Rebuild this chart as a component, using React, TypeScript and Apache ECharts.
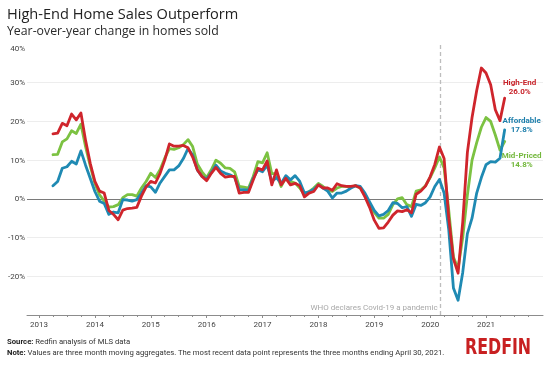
import React, { useEffect, useRef } from "react";
import * as echarts from "echarts";

// first data point: March 2013, last: April 2021 (monthly, three-month moving aggregates)
const startYear = 2013;
const startMonth = 3;

const highEnd = [
  // 2013 (Mar-Dec)
  16.8, 17.0, 19.5, 18.9, 21.9, 20.4, 22.2, 15.1, 9.2, 4.5,
  // 2014
  2.0, 1.5, -3.0, -4.0, -5.4, -2.9, -2.5, -2.4, -2.2, 0.7, 3.1, 4.5,
  // 2015
  4.1, 6.6, 10.0, 14.2, 13.6, 13.6, 13.8, 13.2, 10.8, 7.5, 5.8, 4.7,
  // 2016
  6.6, 8.1, 6.6, 5.6, 5.8, 5.8, 1.5, 1.7, 1.7, 4.9, 7.9, 7.5,
  // 2017
  9.8, 3.6, 7.5, 3.6, 5.3, 3.6, 4.0, 3.4, 0.5, 1.5, 1.9, 3.6,
  // 2018
  2.8, 2.8, 2.2, 3.9, 3.4, 3.2, 3.2, 3.4, 2.8, 0.5, -2.2, -5.5,
  // 2019
  -7.6, -7.5, -6.0, -4.2, -3.1, -3.3, -2.8, -3.6, 1.2, 2.0, 3.3, 5.7,
  // 2020
  8.9, 13.4, 10.4, -5.0, -15.5, -19.2, -6.0, 12.0, 21.0, 28.0, 33.8, 32.5,
  // 2021 (Jan-Apr)
  29.5, 23.0, 20.2, 26.0,
];

const affordable = [
  3.4, 4.5, 7.9, 8.3, 9.7, 9.0, 12.4, 8.7, 5.3, 1.9,
  -0.6, -1.2, -4.0, -3.4, -3.6, -0.2, -0.3, -0.6, -0.2, 1.5, 3.4, 3.1,
  1.7, 4.1, 5.8, 7.5, 7.5, 8.5, 10.4, 13.0, 11.3, 7.5, 5.8, 5.1,
  6.8, 8.7, 7.2, 6.6, 6.2, 5.6, 2.4, 2.4, 2.2, 5.3, 7.5, 7.0,
  8.7, 4.5, 5.5, 4.0, 6.0, 4.9, 6.0, 4.5, 1.5, 1.8, 2.5, 3.6,
  2.8, 2.0, 0.2, 1.5, 1.5, 2.0, 2.8, 3.4, 3.2, 1.5, -0.8, -3.0,
  -4.4, -4.0, -3.0, -1.0, -1.2, -2.3, -2.0, -4.5, -1.4, -1.7, -1.0, 0.5,
  3.2, 5.0, 1.5, -8.0, -23.0, -26.2, -19.0, -9.0, -5.0, 1.5, 5.5, 8.8,
  9.6, 9.5, 10.5, 17.8,
];

const midPriced = [
  11.4, 11.5, 14.7, 15.5, 17.6, 16.9, 19.3, 13.5, 8.5, 4.0,
  1.0, -0.5, -2.1, -2.0, -1.5, 0.3, 1.1, 1.1, 0.7, 2.8, 4.5, 6.6,
  5.5, 7.5, 10.5, 13.0, 12.8, 13.2, 14.0, 15.3, 13.5, 9.0, 7.0, 5.5,
  7.5, 10.0, 9.2, 8.0, 7.9, 7.0, 3.2, 3.0, 2.8, 5.8, 9.6, 9.3,
  11.9, 6.5, 6.5, 3.2, 5.5, 4.5, 4.1, 2.8, 1.1, 1.9, 2.8, 4.0,
  3.2, 2.2, 1.9, 2.8, 3.2, 3.2, 3.0, 3.4, 2.8, 1.0, -1.5, -3.5,
  -5.0, -5.0, -4.0, -1.5, 0.0, 0.3, -1.5, -2.0, 2.0, 2.3, 3.4, 5.5,
  8.0, 10.8, 8.0, -3.0, -15.0, -18.0, -10.0, 1.0, 10.0, 14.5, 18.5, 21.0,
  20.0, 16.5, 12.6, 14.8,
];

const yearTicks = [2013, 2014, 2015, 2016, 2017, 2018, 2019, 2020, 2021];
const whoDate = 2020.19;
const whoText = "WHO declares Covid-19 a pandemic";

const seriesNames = ["Mid-Priced", "Affordable", "High-End"];
const seriesColors = ["#7cc242", "#1f8ab3", "#cf252c"];
const labelColors = ["#74b83d", "#1c7eab", "#c8232a"];

const FONT = "Roboto";
const TITLE_FONT = "Open Sans";

// month m of year Y is plotted at the month's end
const toX = (i: number) => startYear + (startMonth - 1 + i + 1) / 12;
const pairs = (arr: number[]) => arr.map((v, i) => [toX(i), v]);

const quarterTicks: number[] = [];
yearTicks.forEach((y) => {
  [0.25, 0.5, 0.75].forEach((q) => quarterTicks.push(y + q));
});
quarterTicks.push(2012.75);

export default function App() {
  const ref = useRef<HTMLDivElement>(null);

  useEffect(() => {
    if (!ref.current) return;
    const chart = echarts.init(ref.current, undefined, { renderer: "svg" });
    const X_MIN = 2012.785;
    const X_MAX = 2022.02;

    const datas = [midPriced, affordable, highEnd];

    const option: any = {
      animation: false,
      textStyle: { fontFamily: FONT },
      grid: { left: 27, right: 7, top: 44, bottom: 50, containLabel: false },
      xAxis: [
        {
          type: "value",
          min: X_MIN,
          max: X_MAX,
          position: "bottom",
          axisLine: { show: true, onZero: false, lineStyle: { color: "#8c8c8c", width: 1 } },
          axisTick: { show: true, length: 3, customValues: yearTicks, lineStyle: { color: "#8c8c8c" } },
          axisLabel: {
            customValues: yearTicks,
            formatter: (v: number) => String(Math.round(v)),
            fontSize: 8,
            color: "#444",
            margin: 5,
            fontFamily: FONT,
          },
          splitLine: { show: false },
        },
        {
          type: "value",
          min: X_MIN,
          max: X_MAX,
          position: "bottom",
          axisLine: { show: false, onZero: false },
          axisTick: { show: true, length: 2, customValues: quarterTicks, lineStyle: { color: "#8c8c8c" } },
          axisLabel: { show: false },
          splitLine: { show: false },
        },
      ],
      yAxis: {
        type: "value",
        min: -30,
        max: 40,
        interval: 10,
        axisLine: { show: false },
        axisTick: { show: false },
        axisLabel: {
          fontSize: 8,
          color: "#444",
          margin: 2,
          fontFamily: FONT,
          formatter: (v: number) => {
            if (v === -30) return "";
            if (v === 40) return "{top|40%}";
            return v + "%";
          },
          rich: { top: { fontSize: 8, color: "#444", padding: [8, 0, 0, 0] } },
        },
        splitLine: { show: true, showMaxLine: false, showMinLine: false, lineStyle: { color: "#ededed", width: 1 } },
      },
      series: datas.map((d, i) => ({
        name: seriesNames[i],
        type: "line",
        data: pairs(d),
        showSymbol: false,
        symbol: "none",
        lineStyle: { color: seriesColors[i], width: 2.8, join: "round", cap: "round" },
        itemStyle: { color: seriesColors[i] },
        z: 3 + i,
        markLine:
          i === 0
            ? {
                silent: true,
                symbol: "none",
                label: { show: false },
                z: 1,
                data: [
                  { yAxis: 0, lineStyle: { color: "#7a7a7a", width: 1, type: "solid" } },
                  { xAxis: whoDate, lineStyle: { color: "#bdbdbd", width: 1.3, type: [4, 3] } },
                ],
              }
            : undefined,
      })),
    };

    chart.setOption(option);

    const px = (si: number, x: number, y: number) =>
      chart.convertToPixel({ seriesIndex: si }, [x, y]) as number[];

    const labelOffsets = [
      [17, 14, 23],
      [17, -9, 0],
      [15, -16, -6.5],
    ];
    const endTexts: any[] = [];
    datas.forEach((d, i) => {
      const last = d.length - 1;
      const p = px(i, toX(last), d[last]);
      const [dx, dy1, dy2] = labelOffsets[i];
      endTexts.push({
        type: "text",
        x: p[0] + dx,
        y: p[1] + dy1,
        style: {
          text: seriesNames[i],
          fill: labelColors[i],
          font: `bold 8px ${FONT}`,
          align: "center",
          verticalAlign: "middle",
        },
      });
      endTexts.push({
        type: "text",
        x: p[0] + dx,
        y: p[1] + dy2,
        style: {
          text: d[last].toFixed(1) + "%",
          fill: labelColors[i],
          font: `bold 8px ${FONT}`,
          align: "center",
          verticalAlign: "middle",
        },
      });
    });

    const whoP = px(0, whoDate, -30);

    chart.setOption({
      graphic: [
        {
          type: "text",
          x: 7,
          y: 13,
          style: {
            text: "High-End Home Sales Outperform",
            fill: "#222",
            font: `14.6px '${TITLE_FONT}'`,
            verticalAlign: "middle",
          },
        },
        {
          type: "text",
          x: 7,
          y: 30,
          style: {
            text: "Year-over-year change in homes sold",
            fill: "#2a2a2a",
            font: `12.3px '${TITLE_FONT}'`,
            verticalAlign: "middle",
          },
        },
        {
          type: "text",
          x: whoP[0] - 3,
          y: whoP[1] - 8,
          style: {
            text: whoText,
            fill: "#a8a8a8",
            font: `8px ${FONT}`,
            align: "right",
            verticalAlign: "middle",
          },
        },
        ...endTexts,
        {
          type: "text",
          x: 7,
          y: 341,
          style: {
            text: "{b|Source:} Redfin analysis of MLS data",
            verticalAlign: "middle",
            rich: {
              b: { fontWeight: "bold", fontSize: 7.7, fill: "#222", fontFamily: FONT },
            },
            fontSize: 7.7,
            fill: "#333",
            fontFamily: FONT,
          },
        },
        {
          type: "text",
          x: 7,
          y: 352,
          style: {
            text: "{b|Note:} Values are three month moving aggregates. The most recent data point represents the three months ending April 30, 2021.",
            verticalAlign: "middle",
            rich: {
              b: { fontWeight: "bold", fontSize: 7.7, fill: "#222", fontFamily: FONT },
            },
            fontSize: 7.7,
            fill: "#333",
            fontFamily: FONT,
          },
        },
        {
          type: "text",
          x: 465,
          y: 347,
          scaleX: 0.8,
          style: {
            text: "REDFIN",
            fill: "#c82021",
            font: `bold 22px 'DejaVu Sans Condensed'`,
            verticalAlign: "middle",
          },
        },
      ],
    });

    return () => chart.dispose();
  }, []);

  return <div ref={ref} style={{ width: 550, height: 365, position: "fixed", left: 0, top: 0 }} />;
}
